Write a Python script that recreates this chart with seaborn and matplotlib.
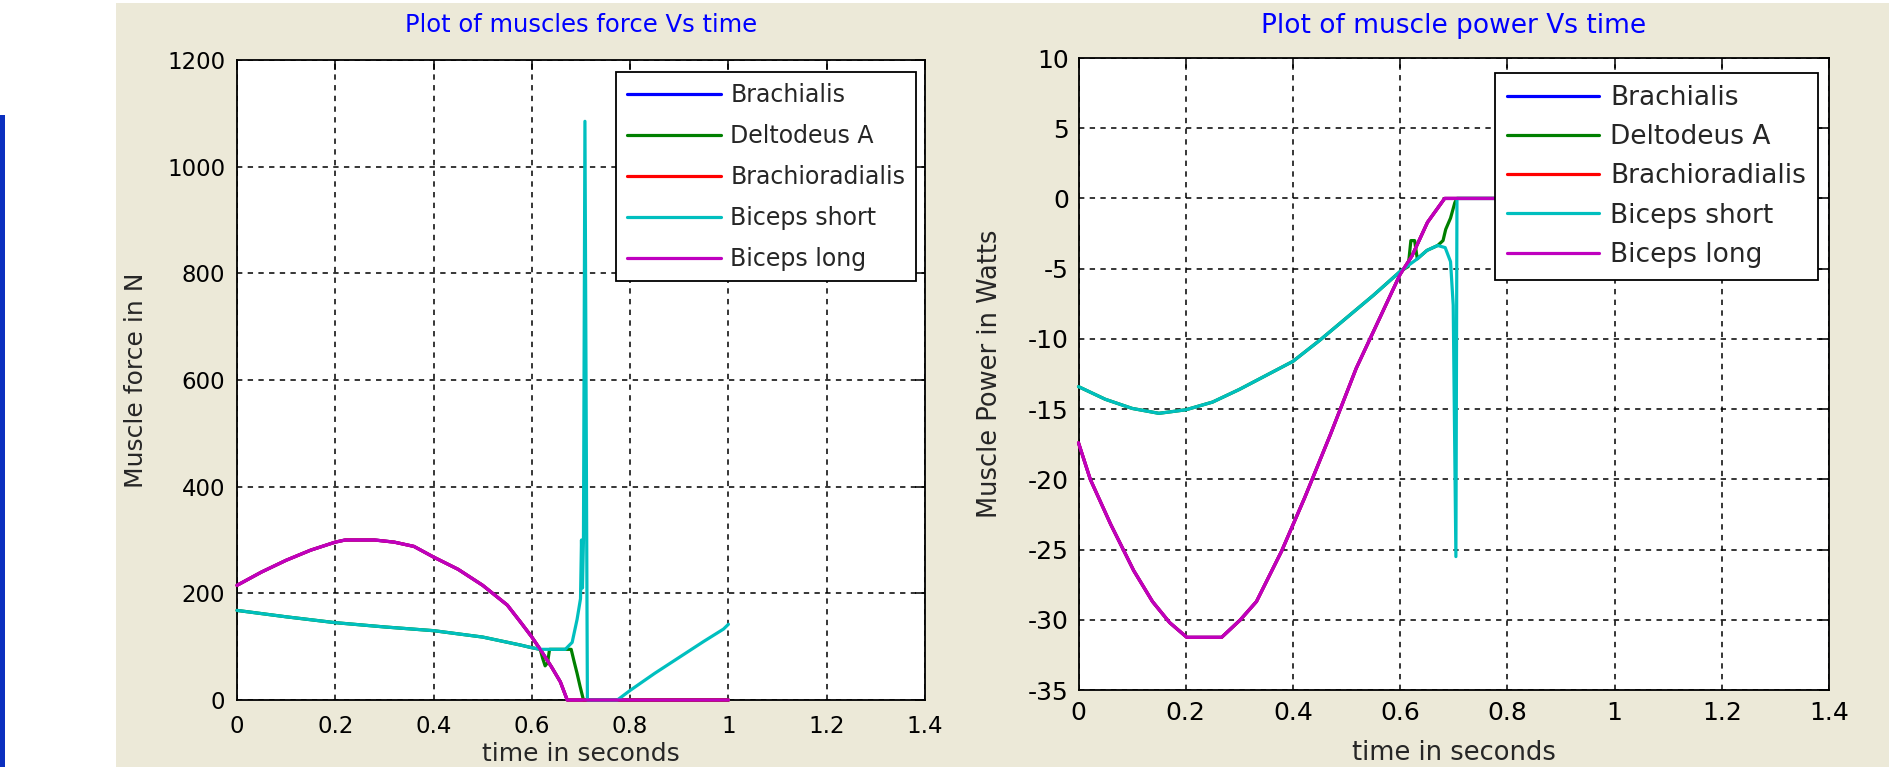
import matplotlib
matplotlib.use("Agg")
import matplotlib.pyplot as plt
import seaborn as sns
from matplotlib.patches import Rectangle

# ---- data ----
muscles = ["Brachialis", "Deltodeus A", "Brachioradialis", "Biceps short", "Biceps long"]
colors = ["#0000ff", "#008000", "#ff0000", "#00bfbf", "#bf00bf"]

xtick_vals = [0, 0.2, 0.4, 0.6, 0.8, 1.0, 1.2, 1.4]
xtick_labels = ["0", "0.2", "0.4", "0.6", "0.8", "1", "1.2", "1.4"]
force_ticks = [0, 200, 400, 600, 800, 1000, 1200]
power_ticks = [-35, -30, -25, -20, -15, -10, -5, 0, 5, 10]

# force in N
t_long_f = [0, 0.05, 0.1, 0.15, 0.2, 0.22, 0.28, 0.32, 0.36, 0.4, 0.45, 0.5, 0.55,
            0.577, 0.6, 0.617, 0.64, 0.658, 0.672, 1.0]
f_long = [215, 240, 262, 281, 296, 300, 300, 296, 288, 268, 245, 215, 178,
          146, 118, 95, 62, 34, 0, 0]

t_short_f = [0, 0.1, 0.2, 0.3, 0.4, 0.5, 0.577, 0.6, 0.617, 0.668, 0.682, 0.692,
             0.699, 0.701, 0.703, 0.705, 0.708, 0.713, 0.774, 0.8, 0.85, 0.9, 0.95, 0.99, 1.0]
f_short = [168, 156, 145, 137, 130, 118, 103, 98, 95, 95, 108, 151,
           190, 300, 210, 300, 1085, 0, 0, 18, 50, 80, 110, 133, 142]

# deltoid runs under biceps short except near t = 0.62 and 0.68-0.71
t_delt_f = [0, 0.1, 0.2, 0.3, 0.4, 0.5, 0.577, 0.6, 0.617, 0.622, 0.627, 0.632, 0.636,
            0.668, 0.68, 0.686, 0.692, 0.698, 0.705, 1.0]
f_delt = [168, 156, 145, 137, 130, 118, 103, 98, 95, 78, 64, 70, 95,
          95, 95, 72, 50, 26, 0, 0]

# brachialis / brachioradialis lie exactly under the biceps long trace
t_brach_f = [0, 0.05, 0.1, 0.15, 0.2, 0.22, 0.28, 0.32, 0.36, 0.4, 0.45, 0.5, 0.55,
             0.577, 0.6, 0.617, 0.64, 0.658, 0.672, 1.0]
f_brachialis = [215, 240, 262, 281, 296, 300, 300, 296, 288, 268, 245, 215, 178,
                146, 118, 95, 62, 34, 0, 0]
f_brachiorad = [215, 240, 262, 281, 296, 300, 300, 296, 288, 268, 245, 215, 178,
                146, 118, 95, 62, 34, 0, 0]

# power in W
t_long_p = [0, 0.022, 0.06, 0.103, 0.138, 0.17, 0.202, 0.267, 0.302, 0.332, 0.379,
            0.422, 0.47, 0.518, 0.556, 0.6, 0.622, 0.651, 0.683, 1.0]
p_long = [-17.4, -20.0, -23.2, -26.5, -28.7, -30.2, -31.25, -31.25, -30.0, -28.7, -25.1,
          -21.3, -16.8, -12.1, -9.0, -5.4, -4.1, -1.7, 0, 0]

t_short_p = [0, 0.05, 0.1, 0.15, 0.2, 0.25, 0.3, 0.35, 0.4, 0.45, 0.5, 0.55, 0.6,
             0.632, 0.65, 0.67, 0.684, 0.694, 0.699, 0.704, 0.706, 1.0]
p_short = [-13.4, -14.3, -14.95, -15.3, -15.05, -14.5, -13.6, -12.6, -11.6, -10.1, -8.5, -6.9, -5.2,
           -4.3, -3.7, -3.35, -3.5, -4.5, -7.6, -25.5, 0, 0]

t_delt_p = [0, 0.05, 0.1, 0.15, 0.2, 0.25, 0.3, 0.35, 0.4, 0.45, 0.5, 0.55, 0.6,
            0.615, 0.62, 0.627, 0.632, 0.65, 0.67, 0.68, 0.685, 0.694, 0.702, 0.706, 1.0]
p_delt = [-13.4, -14.3, -14.95, -15.3, -15.05, -14.5, -13.6, -12.6, -11.6, -10.1, -8.5, -6.9, -5.2,
          -4.85, -3.0, -3.0, -4.3, -3.7, -3.35, -3.0, -2.2, -1.4, -0.3, 0, 0]

t_brach_p = [0, 0.022, 0.06, 0.103, 0.138, 0.17, 0.202, 0.267, 0.302, 0.332, 0.379,
             0.422, 0.47, 0.518, 0.556, 0.6, 0.622, 0.651, 0.683, 1.0]
p_brachialis = [-17.4, -20.0, -23.2, -26.5, -28.7, -30.2, -31.25, -31.25, -30.0, -28.7, -25.1,
                -21.3, -16.8, -12.1, -9.0, -5.4, -4.1, -1.7, 0, 0]
p_brachiorad = [-17.4, -20.0, -23.2, -26.5, -28.7, -30.2, -31.25, -31.25, -30.0, -28.7, -25.1,
                -21.3, -16.8, -12.1, -9.0, -5.4, -4.1, -1.7, 0, 0]

force_series = [(t_brach_f, f_brachialis), (t_delt_f, f_delt), (t_brach_f, f_brachiorad),
                (t_short_f, f_short), (t_long_f, f_long)]
power_series = [(t_brach_p, p_brachialis), (t_delt_p, p_delt), (t_brach_p, p_brachiorad),
                (t_short_p, p_short), (t_long_p, p_long)]

# ---- figure ----
sns.set_style("white")
plt.rcParams["axes.unicode_minus"] = False
fig = plt.figure(figsize=(18.89, 7.67), dpi=100, facecolor="white")

# window background (beige panel + blue strip on the left)
fig.add_artist(Rectangle((116 / 1889, 0), 1 - 116 / 1889, 764 / 767,
                         transform=fig.transFigure, facecolor="#ece9d8",
                         edgecolor="none", zorder=0))
fig.add_artist(Rectangle((0, 0), 5 / 1889, 652 / 767, transform=fig.transFigure,
                         facecolor="#0b2fbf", edgecolor="none", zorder=0))

ax1 = fig.add_axes([237 / 1889, 67 / 767, 688 / 1889, 640 / 767])
ax2 = fig.add_axes([1078.5 / 1889, 77 / 767, 750.5 / 1889, 632 / 767])


def style_axes(ax, yticks, ylim, tick_fs, xpad, ypad):
    ax.set_facecolor("white")
    ax.set_xlim(0, 1.4)
    ax.set_ylim(*ylim)
    ax.set_xticks(xtick_vals)
    ax.set_xticklabels(xtick_labels)
    ax.set_yticks(yticks)
    ax.set_yticklabels([str(v) for v in yticks])
    ax.grid(True, color="black", linestyle=(0, (3.5, 3.5)), linewidth=1.1)
    ax.set_axisbelow(True)
    for s in ax.spines.values():
        s.set_visible(True)
        s.set_color("black")
        s.set_linewidth(1.3)
    ax.tick_params(direction="in", length=7, width=1.1, top=True, right=True,
                   colors="black", labelsize=tick_fs)
    ax.tick_params(axis="x", pad=xpad)
    ax.tick_params(axis="y", pad=ypad)


for ax, series in [(ax1, force_series), (ax2, power_series)]:
    for name, col, (tt, vv) in zip(muscles, colors, series):
        sns.lineplot(x=tt, y=vv, color=col, label=name, estimator=None, sort=False,
                     linewidth=2.3, clip_on=False, zorder=3, ax=ax)

style_axes(ax1, force_ticks, (0, 1200), 16.5, 11, 8.5)
style_axes(ax2, power_ticks, (-35, 10), 18, 8, 7)

ax1.set_title("Plot of muscles force Vs time", color="blue", fontsize=17.5, pad=20)
ax2.set_title("Plot of muscle power Vs time", color="blue", fontsize=19, pad=18)

ax1.set_ylabel("Muscle force in N", fontsize=18, va="center")
ax1.yaxis.set_label_coords(-0.147, 0.5)
ax1.set_xlabel("time in seconds", fontsize=18, va="top")
ax1.xaxis.set_label_coords(0.5, -0.066)

ax2.set_ylabel("Muscle Power in Watts", fontsize=18.5, va="center")
ax2.yaxis.set_label_coords(-0.118, 0.5)
ax2.set_xlabel("time in seconds", fontsize=18.5, va="top")
ax2.xaxis.set_label_coords(0.5, -0.079)

for ax, anchor, fs, hl, ls in [(ax1, (0.987, 0.981), 17, 4.0, 0.72),
                               (ax2, (0.985, 0.976), 19, 3.5, 0.5)]:
    handles, labels = ax.get_legend_handles_labels()
    leg = ax.legend(handles, labels, loc="upper right", bbox_to_anchor=anchor,
                    frameon=True, fancybox=False, shadow=False, edgecolor="black",
                    framealpha=1, fontsize=fs, handlelength=hl, handletextpad=0.4,
                    labelspacing=ls, borderpad=0.45, borderaxespad=0)
    leg.get_frame().set_linewidth(1.3)
    leg.set_zorder(5)

fig.savefig("out.png", dpi=100, facecolor=fig.get_facecolor())
